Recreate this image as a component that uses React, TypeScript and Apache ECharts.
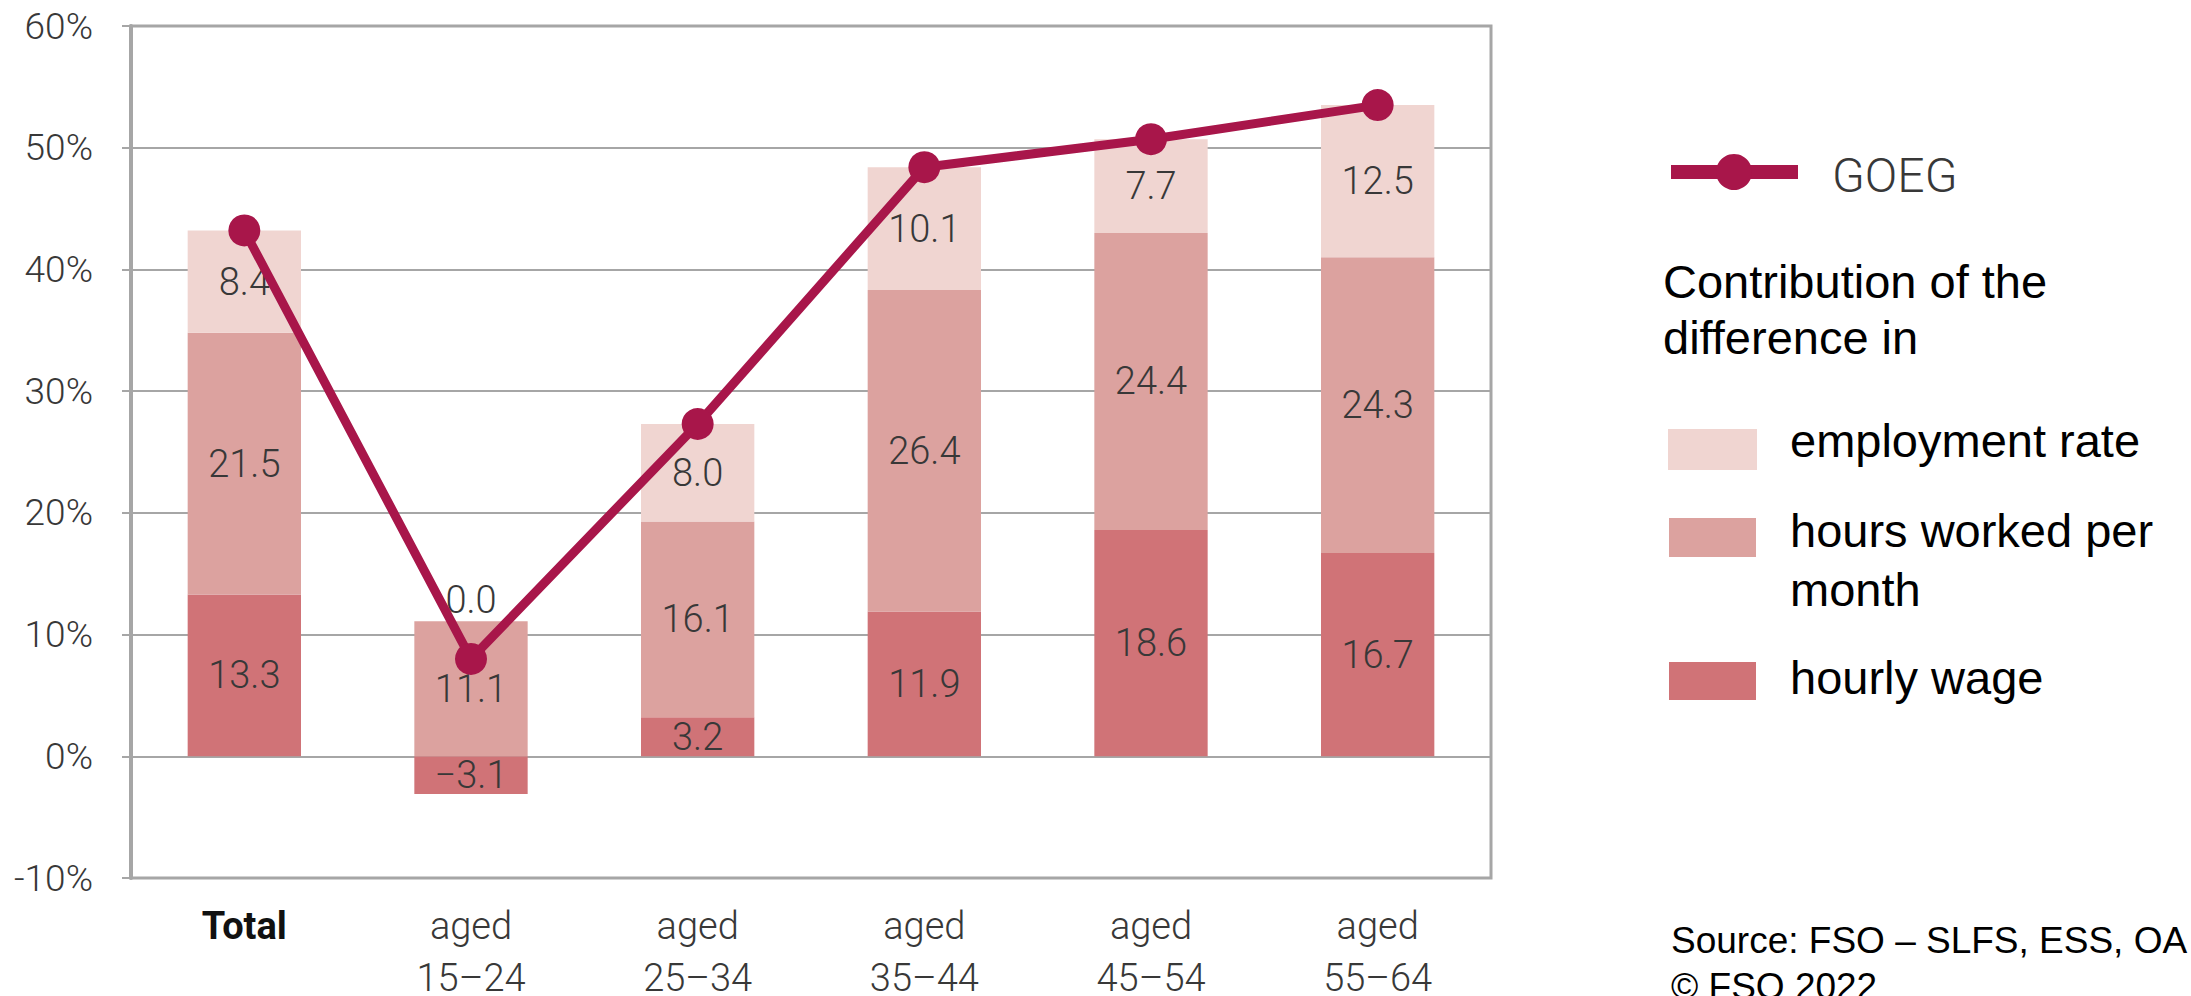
import React, { useEffect, useRef } from "react";
import * as echarts from "echarts";

const categories = ["Total", "aged\n15–24", "aged\n25–34", "aged\n35–44", "aged\n45–54", "aged\n55–64"];
const hourlyWage = [13.3, -3.1, 3.2, 11.9, 18.6, 16.7];
const hoursWorked = [21.5, 11.1, 16.1, 26.4, 24.4, 24.3];
const employmentRate = [8.4, 0.0, 8.0, 10.1, 7.7, 12.5];
const goeg = [43.2, 8.0, 27.3, 48.4, 50.7, 53.5];

const legendLabels = ["employment rate", "hours worked per\nmonth", "hourly wage"];
const legendTitle = ["Contribution of the", "difference in"];
const sourceLines = ["Source: FSO – SLFS, ESS, OA", "© FSO 2022"];

const C_EMP = "#f0d5d1";
const C_HRS = "#dca29f";
const C_WAGE = "#d07377";
const C_LINE = "#a8164a";
const GRID_C = "#a6a6a6";
const TXT = "#383838";

const fmt = (v: number) => v.toFixed(1).replace("-", "−");

export default function App() {
  const ref = useRef<HTMLDivElement>(null);
  useEffect(() => {
    document.body.style.margin = "0";
    const chart = echarts.init(ref.current!, undefined, { renderer: "svg" });
    const barLabel = {
      show: true,
      position: "inside",
      color: TXT,
      fontFamily: "Roboto",
      fontWeight: 300,
      fontSize: 38,
      formatter: (p: any) => fmt(Number(p.value)),
    };
    const textStyleA = (size: number) => ({
      fontFamily: "'Liberation Sans', Arial",
      fontSize: size,
      fill: "#000",
      verticalAlign: "middle",
      align: "left",
    });
    chart.setOption({
      animation: false,
      backgroundColor: "#fff",
      grid: {
        left: 131,
        right: 700,
        top: 26,
        bottom: 118,
        show: true,
        borderColor: GRID_C,
        borderWidth: 3,
        containLabel: false,
        outerBoundsMode: "none",
      },
      xAxis: {
        type: "category",
        data: categories.map((c, i) =>
          i === 0 ? { value: c, textStyle: { fontWeight: "bold", color: "#111" } } : c
        ),
        boundaryGap: true,
        axisLine: { show: false },
        axisTick: { show: false },
        axisLabel: {
          interval: 0,
          fontFamily: "Roboto",
          fontWeight: 300,
          fontSize: 38,
          lineHeight: 52,
          color: TXT,
          margin: 22,
        },
      },
      yAxis: {
        type: "value",
        min: -10,
        max: 60,
        interval: 10,
        axisLine: { show: true, lineStyle: { color: GRID_C, width: 4 } },
        axisTick: { show: true, length: 9, lineStyle: { color: GRID_C, width: 2 } },
        splitLine: { show: true, lineStyle: { color: GRID_C, width: 2 } },
        axisLabel: {
          formatter: "{value}%",
          fontFamily: "Roboto",
          fontWeight: 300,
          fontSize: 37,
          color: TXT,
          margin: 38,
        },
      },
      series: [
        {
          name: "hourly wage",
          type: "bar",
          stack: "total",
          barWidth: "50%",
          data: hourlyWage,
          itemStyle: { color: C_WAGE },
          label: barLabel,
          z: 2,
        },
        {
          name: "hours worked per month",
          type: "bar",
          stack: "total",
          barWidth: "50%",
          data: hoursWorked,
          itemStyle: { color: C_HRS },
          label: barLabel,
          z: 2,
        },
        {
          name: "employment rate",
          type: "bar",
          stack: "total",
          barWidth: "50%",
          data: employmentRate.map((v) =>
            v === 0 ? { value: v, label: { position: "top", distance: 2 } } : v
          ),
          itemStyle: { color: C_EMP },
          label: barLabel,
          z: 2,
        },
        {
          name: "GOEG",
          type: "line",
          data: goeg,
          symbol: "circle",
          symbolSize: 32,
          itemStyle: { color: C_LINE },
          lineStyle: { color: C_LINE, width: 9 },
          z: 10,
        },
      ],
      graphic: [
        { type: "line", shape: { x1: 1671, y1: 172, x2: 1798, y2: 172 }, style: { stroke: C_LINE, lineWidth: 14 } },
        { type: "circle", shape: { cx: 1734, cy: 172, r: 18 }, style: { fill: C_LINE } },
        {
          type: "text",
          x: 1832,
          y: 175,
          style: { text: "GOEG", fontFamily: "Roboto", fontWeight: 300, fontSize: 48, fill: TXT, verticalAlign: "middle", align: "left" },
        },
        { type: "text", x: 1663, y: 281, style: { text: legendTitle[0], ...textStyleA(47) } },
        { type: "text", x: 1663, y: 337, style: { text: legendTitle[1], ...textStyleA(47) } },
        { type: "rect", shape: { x: 1668, y: 429, width: 89, height: 41 }, style: { fill: C_EMP } },
        { type: "text", x: 1790, y: 440, style: { text: legendLabels[0], ...textStyleA(47) } },
        { type: "rect", shape: { x: 1669, y: 518, width: 87, height: 39 }, style: { fill: C_HRS } },
        { type: "text", x: 1790, y: 530, style: { text: legendLabels[1].split("\n")[0], ...textStyleA(47) } },
        { type: "text", x: 1790, y: 589, style: { text: legendLabels[1].split("\n")[1], ...textStyleA(47) } },
        { type: "rect", shape: { x: 1669, y: 662, width: 87, height: 38 }, style: { fill: C_WAGE } },
        { type: "text", x: 1790, y: 677, style: { text: legendLabels[2], ...textStyleA(47) } },
        { type: "text", x: 1671, y: 940, style: { text: sourceLines[0], ...textStyleA(37) } },
        { type: "text", x: 1671, y: 986, style: { text: sourceLines[1], ...textStyleA(37) } },
      ],
    });
    return () => chart.dispose();
  }, []);
  return (
    <div
      ref={ref}
      style={{ position: "absolute", left: 0, top: 0, width: 2191, height: 996 }}
    />
  );
}
